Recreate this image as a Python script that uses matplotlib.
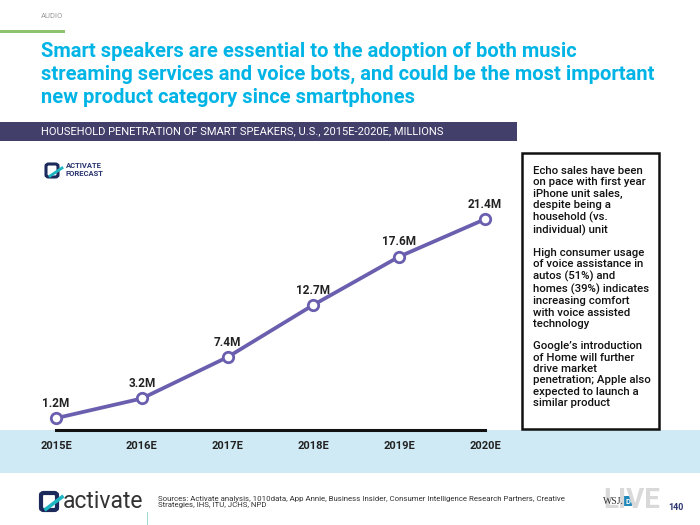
import numpy as np
import matplotlib.pyplot as plt
from matplotlib.patches import Rectangle, FancyBboxPatch

years = ["2015E", "2016E", "2017E", "2018E", "2019E", "2020E"]
households = [1.2, 3.2, 7.4, 12.7, 17.6, 21.4]
point_labels = ["1.2M", "3.2M", "7.4M", "12.7M", "17.6M", "21.4M"]

title = ("Smart speakers are essential to the adoption of both music\n"
         "streaming services and voice bots, and could be the most important\n"
         "new product category since smartphones")
subtitle = "HOUSEHOLD PENETRATION OF SMART SPEAKERS, U.S., 2015E-2020E, MILLIONS"
notes = ("Echo sales have been\non pace with first year\niPhone unit sales,\n"
         "despite being a\nhousehold (vs.\nindividual) unit\n\n"
         "High consumer usage\nof voice assistance in\nautos (51%) and\n"
         "homes (39%) indicates\nincreasing comfort\nwith voice assisted\ntechnology\n\n"
         "Google\u2019s introduction\nof Home will further\ndrive market\n"
         "penetration; Apple also\nexpected to launch a\nsimilar product")
sources = ("Sources: Activate analysis, 1010data, App Annie, Business Insider, Consumer Intelligence Research Partners, Creative\n"
           "Strategies, IHS, ITU, JCHS, NPD")

font = "Roboto"
W, H = 700, 525
fig = plt.figure(figsize=(7, 5.25), dpi=100)


def px(x, y):
    return x / W, 1 - y / H


def ftext(x, y, s, **kw):
    fig.text(*px(x, y), s, family=kw.pop("family", font), **kw)


def frect(x0, y0, x1, y1, **kw):
    kw.setdefault("zorder", -1)
    fig.patches.append(Rectangle(px(x0, y1), (x1 - x0) / W, (y1 - y0) / H,
                                 transform=fig.transFigure, figure=fig, **kw))


# header
ftext(41, 16, "AUDIO", fontsize=5.5, color="#9a9a9a", va="center")
frect(0, 29.5, 65, 32.5, color="#8dc26f", lw=0)
ftext(41, 42, title, fontsize=14.5, color="#00b4e6", weight="bold",
      va="top", linespacing=1.27)
frect(0, 122, 517, 141, color="#433f6b", lw=0)
ftext(41, 131.5, subtitle, fontsize=8, color="white", va="center")

# light blue band behind the year labels
frect(0, 430, W, 473, color="#cfeaf5", lw=0)

# chart
ax = fig.add_axes([56 / W, 1 - 430 / H, (485 - 56) / W, 22 * 9.85 / H])
x = np.arange(len(years))
ax.plot(x, households, color="#6a5fae", lw=2.7, marker="o", ms=7.5,
        mfc="white", mec="#6a5fae", mew=2, clip_on=False, zorder=3)
for xi, v, lab in zip(x, households, point_labels):
    ax.annotate(lab, (xi, v), xytext=(0, 6), textcoords="offset points",
                ha="center", va="bottom", fontsize=8.5, weight="bold",
                color="#222222", family=font)
ax.set_xlim(0, len(years) - 1)
ax.set_ylim(0, 22)
ax.set_xticks(x)
ax.set_xticklabels(years, fontsize=8, family=font, weight="bold", color="#222222")
ax.tick_params(axis="x", length=0, pad=8)
ax.set_yticks([])
for s in ["top", "right", "left"]:
    ax.spines[s].set_visible(False)
ax.spines["bottom"].set_linewidth(2.2)
ax.spines["bottom"].set_color("#111111")
ax.patch.set_alpha(0)

# activate forecast badge
fig.patches.append(FancyBboxPatch(px(46, 177), 12 / W, 13 / H, boxstyle="round,pad=0,rounding_size=0.004",
                                  transform=fig.transFigure, figure=fig, fc="none", ec="#1b2a5a", lw=2.2))
fig.lines.append(plt.Line2D([50 / W, 62 / W], [1 - 176 / H, 1 - 168 / H],
                            transform=fig.transFigure, color="#1fb6c4", lw=2))
ftext(66, 169.5, "ACTIVATE\nFORECAST", fontsize=5.5, weight="bold", color="#2a3570",
      va="center", linespacing=1.15)

# notes box
frect(522, 153, 659, 429, fill=False, ec="#111111", lw=1.8, zorder=1)
ftext(533, 166, notes, fontsize=8.2, color="#111111", va="top", weight="medium",
      linespacing=1.16)

# footer
fig.patches.append(FancyBboxPatch(px(41, 510), 16 / W, 17 / H, boxstyle="round,pad=0,rounding_size=0.004",
                                  transform=fig.transFigure, figure=fig, fc="none", ec="#1b2a5a", lw=3))
fig.lines.append(plt.Line2D([46 / W, 62 / W], [1 - 509 / H, 1 - 497 / H],
                            transform=fig.transFigure, color="#1fb6c4", lw=2.6))
ftext(63, 502, "activate", fontsize=16.5, color="#333333", va="center")
frect(146.5, 512, 148, 525, color="#9fd8cf", lw=0)
ftext(158, 502, sources, fontsize=5.7, color="#333333", va="center",
      linespacing=1.0)
ftext(632, 501, "LIVE", fontsize=20, color="#d9d9d9", weight="bold",
      va="center", ha="center")
ftext(613, 502, "WSJ.", fontsize=7, color="#333333", family="Liberation Serif",
      va="center", ha="center")
frect(623, 496, 632, 506, color="#1f88b8", lw=0, zorder=2)
ftext(627.5, 501, "D", fontsize=5.5, color="white", weight="bold",
      va="center", ha="center")
ftext(668, 507, "140", fontsize=6.5, color="#2a3570", weight="bold", va="center")

fig.savefig("out.png", dpi=100)
